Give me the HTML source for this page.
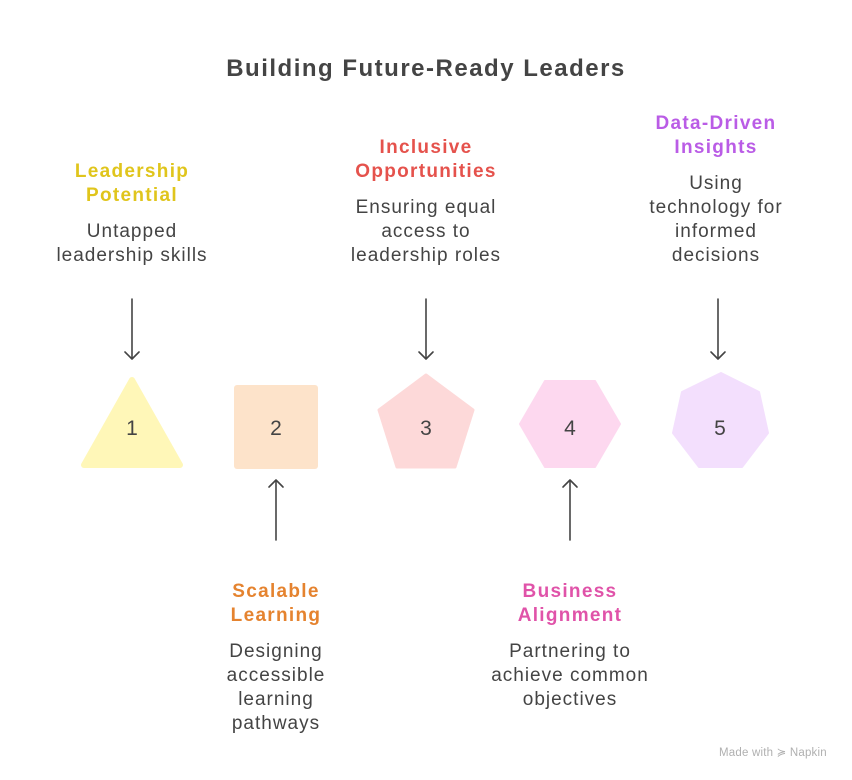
<!DOCTYPE html>
<html>
<head>
<meta charset="utf-8">
<style>
  html, body { margin: 0; padding: 0; background: #ffffff; }
  body { width: 852px; height: 780px; position: relative; overflow: hidden; font-family: "Liberation Sans", sans-serif; }
  svg { position: absolute; left: 0; top: 0; }
  .t { position: absolute; text-align: center; font-size: 19px; line-height: 24px; color: #444; white-space: nowrap; letter-spacing: 1px; }
  .h { font-weight: bold; letter-spacing: 1.3px; }
  .title { position: absolute; left: 0; width: 852px; top: 54px; text-align: center; font-weight: bold; font-size: 24px; line-height: 30px; color: #444; letter-spacing: 1.5px; }
  .foot { position: absolute; left: 719px; top: 745px; font-size: 11.5px; color: #b0b0b0; letter-spacing: 0.2px; }
</style>
</head>
<body>
<div class="title">Building Future-Ready Leaders</div>

<svg width="852" height="780" viewBox="0 0 852 780">
  <!-- shapes -->
  <polygon points="132,380 84,465 180,465" fill="#FFF7B8" stroke="#FFF7B8" stroke-width="6" stroke-linejoin="round"/>
  <rect x="234" y="385" width="84" height="84" rx="3" fill="#FDE3CA"/>
  <polygon points="426,375 379,410 397,467 455,467 473,410" fill="#FDD9D9" stroke="#FDD9D9" stroke-width="3" stroke-linejoin="round"/>
  <polygon points="520,424 545,381 595,381 620,424 595,467 545,467" fill="#FDD8EF" stroke="#FDD8EF" stroke-width="2" stroke-linejoin="round"/>
  <polygon points="721,373 759,392 768,433 742,467 699,467 673,433 682,392" fill="#F3DFFD" stroke="#F3DFFD" stroke-width="2" stroke-linejoin="round"/>

  <!-- numbers -->
  <g font-family="Liberation Sans, sans-serif" font-size="21" fill="#444" text-anchor="middle">
    <text x="132" y="435">1</text>
    <text x="276" y="435">2</text>
    <text x="426" y="435">3</text>
    <text x="570" y="435">4</text>
    <text x="720" y="435">5</text>
  </g>

  <!-- arrows -->
  <g stroke="#444" stroke-width="1.6" fill="none" stroke-linecap="round" stroke-linejoin="round">
    <line x1="132" y1="299" x2="132" y2="358"/>
    <polyline points="125,352 132,359 139,352"/>
    <line x1="426" y1="299" x2="426" y2="358"/>
    <polyline points="419,352 426,359 433,352"/>
    <line x1="718" y1="299" x2="718" y2="358"/>
    <polyline points="711,352 718,359 725,352"/>
    <line x1="276" y1="540" x2="276" y2="481"/>
    <polyline points="269,487 276,480 283,487"/>
    <line x1="570" y1="540" x2="570" y2="481"/>
    <polyline points="563,487 570,480 577,487"/>
  </g>
</svg>

<!-- 1 -->
<div class="t h" style="left:32px;width:200px;top:160px;color:#E0C51C;">Leadership<br>Potential</div>
<div class="t" style="left:32px;width:200px;top:220px;">Untapped<br>leadership skills</div>

<!-- 3 -->
<div class="t h" style="left:326px;width:200px;top:136px;color:#E5524C;">Inclusive<br>Opportunities</div>
<div class="t" style="left:326px;width:200px;top:196px;">Ensuring equal<br>access to<br>leadership roles</div>

<!-- 5 -->
<div class="t h" style="left:616px;width:200px;top:112px;color:#BA5CE6;">Data-Driven<br>Insights</div>
<div class="t" style="left:616px;width:200px;top:172px;">Using<br>technology for<br>informed<br>decisions</div>

<!-- 2 -->
<div class="t h" style="left:176px;width:200px;top:580px;color:#E5832F;">Scalable<br>Learning</div>
<div class="t" style="left:176px;width:200px;top:640px;">Designing<br>accessible<br>learning<br>pathways</div>

<!-- 4 -->
<div class="t h" style="left:470px;width:200px;top:580px;color:#E053A9;">Business<br>Alignment</div>
<div class="t" style="left:470px;width:200px;top:640px;">Partnering to<br>achieve common<br>objectives</div>

<div class="foot">Made with ≽ Napkin</div>
</body>
</html>
